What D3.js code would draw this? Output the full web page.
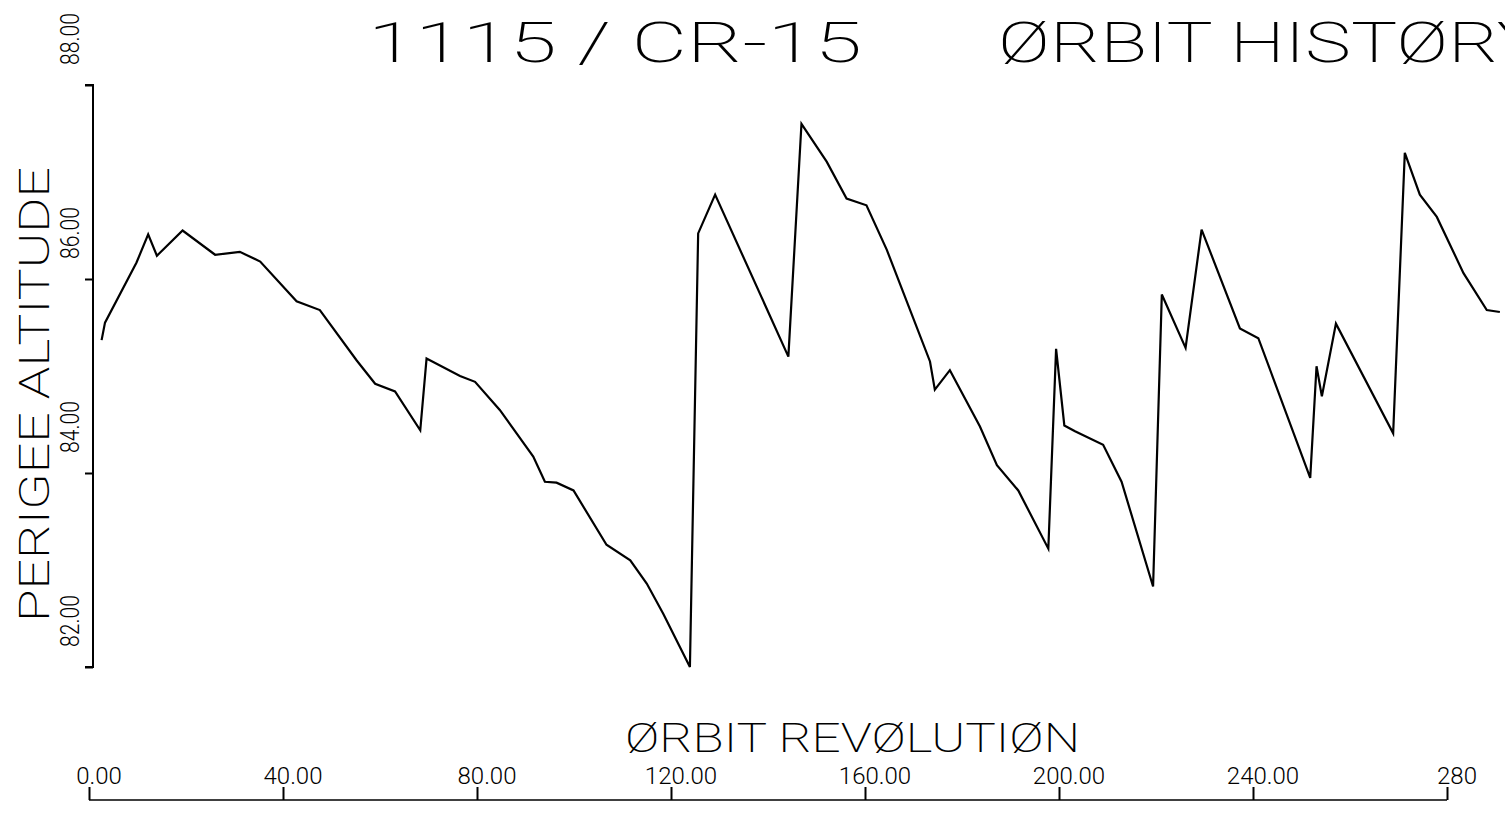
<!DOCTYPE html>
<html><head><meta charset="utf-8">
<script src="https://cdn.jsdelivr.net/npm/d3@7"></script>
<style>body{margin:0;background:#fff} svg{display:block}</style>
</head><body><svg id="c" width="1505" height="822"></svg>
<script>
// ---- data ----
const orbit = [2.6,3.3,9.8,12.2,14.0,19.3,26.0,31.1,35.3,42.8,47.6,55.2,59.0,63.1,68.3,69.6,76.5,79.6,84.7,91.6,94.0,96.4,99.9,106.7,111.6,115.0,118.4,123.9,125.6,129.1,144.2,146.9,152.1,156.2,160.3,164.5,173.4,174.4,177.5,183.7,187.2,191.6,197.8,199.4,201.1,203.3,209.1,212.9,219.4,221.2,226.1,229.4,237.3,241.1,251.8,253.1,254.2,257.1,268.9,271.3,274.4,277.9,283.4,288.2,290.9];
const altitude = [85.37,85.55,86.17,86.46,86.24,86.50,86.25,86.28,86.18,85.77,85.68,85.16,84.92,84.84,84.44,85.18,85.00,84.94,84.65,84.17,83.91,83.90,83.82,83.26,83.10,82.86,82.55,82.00,86.47,86.87,85.20,87.60,87.21,86.83,86.76,86.30,85.15,84.86,85.06,84.48,84.08,83.82,83.22,85.28,84.49,84.43,84.29,83.91,82.83,85.84,85.29,86.51,85.49,85.39,83.95,85.10,84.79,85.54,84.41,87.30,86.87,86.64,86.06,85.68,85.66];
const xTicks = [0,40,80,120,160,200,240,280];
const xTickLabels = ["0.00","40.00","80.00","120.00","160.00","200.00","240.00","280"];
const yTicks = [82,84,86,88];
const yTickLabels = ["82.00","84.00","86.00","88.00"];
const titleLeft = "1115 / CR-15";
const titleRight = "ØRBIT HISTØRY";
const xTitle = "ØRBIT REVØLUTIØN";
const yTitle = "PERIGEE ALTITUDE";

const svg = d3.select("#c");
const FONT = "Roboto, 'DejaVu Sans', sans-serif";

const x = d3.scaleLinear().domain([0,280]).range([89,1447]);
const y = d3.scaleLinear().domain([82,88]).range([667,85]);

// y axis
const yAxis = svg.append("g").attr("transform","translate(93,0)")
  .call(d3.axisLeft(y).tickValues(yTicks).tickSize(8).tickFormat(""));
yAxis.select(".domain").attr("stroke","#000").attr("stroke-width",2).attr("d","M-8,667H0V85H-8");
yAxis.selectAll(".tick line").attr("stroke","#000").attr("stroke-width",2);

svg.selectAll(".ytl").data(yTicks).join("text")
  .attr("class","ytl")
  .attr("transform",(d)=>`translate(79,${y(d)-20}) rotate(-90)`)
  .attr("font-family",FONT).attr("font-weight",300)
  .attr("font-size",25).attr("fill","#000")
  .attr("textLength",52).attr("lengthAdjust","spacingAndGlyphs")
  .text((d,i)=>yTickLabels[i]);

svg.append("text")
  .attr("transform","translate(49,622) rotate(-90)")
  .attr("font-family",FONT).attr("font-weight",200)
  .attr("font-size",42).attr("fill","#000")
  .attr("textLength",455).attr("lengthAdjust","spacingAndGlyphs")
  .text(yTitle);

// x axis
const xAxis = svg.append("g").attr("transform","translate(0,800)")
  .call(d3.axisTop(x).tickValues(xTicks).tickSize(13).tickFormat(""));
xAxis.select(".domain").attr("stroke","#000").attr("stroke-width",1.5).attr("d",`M${x(0)},0H${x(280)}`);
xAxis.selectAll(".tick line").attr("stroke","#000").attr("stroke-width",2);

svg.selectAll(".xtl").data(xTicks).join("text")
  .attr("class","xtl")
  .attr("x",d=>x(d)+10).attr("y",784)
  .attr("text-anchor","middle")
  .attr("font-family",FONT).attr("font-weight",300)
  .attr("font-size",24).attr("fill","#000")
  .text((d,i)=>xTickLabels[i]);

svg.append("text")
  .attr("x",625).attr("y",752)
  .attr("font-family",FONT).attr("font-weight",200)
  .attr("font-size",40).attr("fill","#000")
  .attr("textLength",455).attr("lengthAdjust","spacingAndGlyphs")
  .text(xTitle);

// title
svg.append("text").attr("x",368).attr("y",62)
  .attr("font-family",FONT).attr("font-weight",200)
  .attr("font-size",56).attr("fill","#000")
  .attr("textLength",494).attr("lengthAdjust","spacingAndGlyphs")
  .text(titleLeft);
svg.append("text").attr("x",998).attr("y",62)
  .attr("font-family",FONT).attr("font-weight",200)
  .attr("font-size",56).attr("fill","#000")
  .attr("textLength",545).attr("lengthAdjust","spacingAndGlyphs")
  .text(titleRight);

// series
const line = d3.line().x((d,i)=>x(orbit[i])).y(d=>y(d));
svg.append("path").datum(altitude)
  .attr("d",line).attr("fill","none")
  .attr("stroke","#000").attr("stroke-width",2.2).attr("stroke-linejoin","miter");
</script></body></html>
